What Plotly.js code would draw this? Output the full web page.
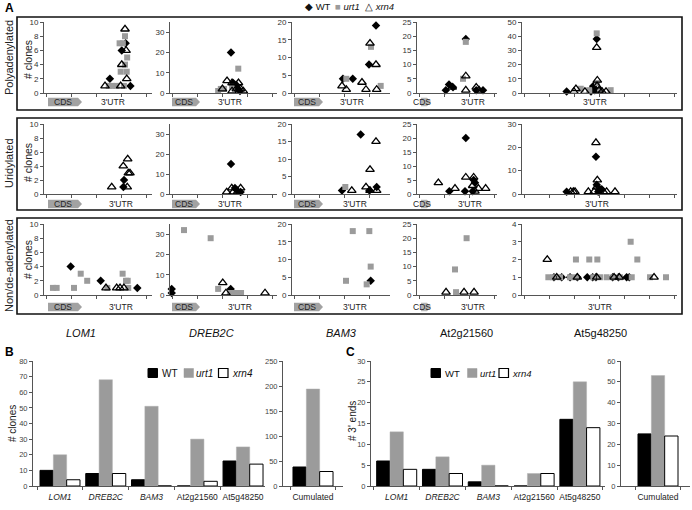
<!DOCTYPE html>
<html><head><meta charset="utf-8">
<script src="https://cdn.plot.ly/plotly-3.0.1.min.js"></script>
<style>body{margin:0;background:#fff}#chart{width:692px;height:510px}</style>
</head><body><div id="chart"></div>
<script>
// ---------- DATA ----------
const genes = ['LOM1','DREB2C','BAM3','At2g21560','At5g48250'];
const geneItalic = [true,true,true,false,false];
const rowNames = ['Polyadenylated','Uridylated','Non/de-adenylated'];
const seriesNames = ['WT','urt1','xrn4'];

// Panel A: position along transcript (axis units 0-100) and # clones; one inner list per gene
const polyWTx = [[75.6,72,61,80],[57,59,62,63.5,65.4],[52,62,78.6,85.7],[36,40,45,61,74,82.5],[48.2,46,45.8,28.8,44.5,47]];
const polyWTy = [[7,6,2,1],[20,5,4,2,1],[4,4,8,19],[1,3,2,19,1,1],[38,5,4,1,1,2]];
const polyUrt1x = [[75,73,70,77,75,71,76.6,60,63,67,74],[45,47.5,50.5,63.8,58],[55.4,80.6,90.5],[61,57.5],[48.2,37.9,43.4,50.3,57.2,48.4]];
const polyUrt1y = [[8,7,7,5,4,3,3,1,1,1,1],[1,2,2,12,3],[4,13,2],[18,5],[42,3,2,2,2,7]];
const polyXrn4x = [[75,76,72,76.6,56.5,71],[53.3,58,64,49,58,62,66,68.5],[51,55.4,71.4,75.5,79.6,85.7,86.4],[61,44,61,74,77.5],[48.2,48.6,33.5,34.8,40.6,49.7,51.6,54.2,48.4]];
const polyXrn4y = [[9,6,4,2,1,1],[6,5,5,2,1,2,2,1],[2,1,3,1,14,8,1],[6,2,1,2,1],[32,9,1,3,1,2,1,1,5]];

const uriWTx = [[73.5,74.1],[57,60.7,62.3,66],[51,70.1,86.4,79],[40.4,61,60,69.6,70.8,72.5],[47.7,48.2,50.3,51.4,28.8,49.2]];
const uriWTy = [[1,2],[15,3,2,1],[1,17,2,1],[1,20,1,1,5,4],[16,4,2,2,1,1]];
const uriUrt1x = [[],[],[54.4],[],[]];
const uriUrt1y = [[],[],[2],[],[]];
const uriXrn4x = [[62.7,77.1,73.4,77.5,78.1,79.6],[53,57.7,59,63,66],[61,75.5,79.6,85.7,79.6,86.4],[26.7,47.5,61,70.8,69.6,76.7,85.8,72.5],[47.7,48.6,48.2,31.4,33.1,34.2,42.8,46.5,52.5,54.6,60]];
const uriXrn4y = [[1,1,4,5,3,3],[1,3,1,1,3],[1,2,7,15,1,1],[4,2,6,6,3,2,2,1],[22,6,3,1,1,1,1,1,1,1,1]];

const nonWTx = [[24.7,52.5,86.4],[1.6,1.6,56.7],[80.3],[],[20.6,25.6,31,35.7,42.1,45.6,47.7,58.5,62.2,67.5,69.2]];
const nonWTy = [[4,2,1],[3,1,3],[4],[],[1,1,1,1,1,1,1,1,1,1,1]];
const nonUrt1x = [[8.3,11.7,27.8,34,40,58.6,72.8,75.9,77.5,78],[13.1,38,45,56,59,62.6,66.4],[55.1,62,78.9,80.3,76.2],[62,47.5,48.8],[34.8,43.4,48.6,74.4,70.1,17,20.2,24.5,31,34.8,46,50.3,54.6,58.9,63.2,70.8,82.6,92.9]];
const nonUrt1y = [[1,1,1,3,2,1,3,2,2,1],[32,28,3,1,1,1,1],[4,18,18,8,3],[20,9,1],[2,2,2,2,3,1,1,1,1,1,1,1,1,1,1,1,1,1]];
const nonXrn4x = [[57.4,67.3,70.4,74],[49.3,52.3,88.8],[],[36.3,58.8,71.3],[16.3,22.4,35.7,48.2,59.4,62.8,85.2]];
const nonXrn4y = [[1,1,1,1],[6,1,1],[],[1,1,1],[2,1,1,1,1,1,1]];

// Panel B: # clones
const clonesWT = [10,8,4,0,16];
const clonesUrt1 = [20,68,51,30,25];
const clonesXrn4 = [4,8,0,3,14];
const cumLabel = ['Cumulated'];
const clonesCumWT = [38], clonesCumUrt1 = [194], clonesCumXrn4 = [29];
// Panel C: # 3' ends
const endsWT = [6,4,1,0,16];
const endsUrt1 = [13,7,5,3,25];
const endsXrn4 = [4,3,0,3,14];
const endsCumWT = [25], endsCumUrt1 = [53], endsCumXrn4 = [24];

// ---------- LAYOUT ----------
const W = 692, H = 510;
const X = p => p / W, Y = p => 1 - p / H;
const FONT = 'Liberation Sans, Arial, Helvetica, sans-serif';
const layout = {
  width: W, height: H, margin: {l:0, r:0, t:0, b:0},
  paper_bgcolor: '#fff', plot_bgcolor: 'rgba(0,0,0,0)', showlegend: false,
  font: {family: FONT, size: 9, color: '#222'},
  barmode: 'group', bargap: 0.126, bargroupgap: 0,
  shapes: [], annotations: []
};
const traces = [];
const ax = n => (n === 1 ? '' : String(n));

function ann(text, px, py, o) {
  layout.annotations.push(Object.assign({
    text: text, x: X(px), y: Y(py), xref: 'paper', yref: 'paper', showarrow: false,
    xanchor: 'center', yanchor: 'middle', font: {family: FONT, size: 9, color: '#222'}
  }, o || {}));
}
function rect(x0, y0, x1, y1, fill, line, lw) {
  layout.shapes.push({type: 'rect', xref: 'paper', yref: 'paper', x0: X(x0), x1: X(x1), y0: Y(y1), y1: Y(y0),
    fillcolor: fill, line: {color: line || 'rgba(0,0,0,0)', width: lw || 0}, layer: 'above'});
}
function arrow(x0, x1, cy, fill) {
  const h = 4.2, tip = 4;
  const p = `M ${X(x0)},${Y(cy - h)} L ${X(x1 - tip)},${Y(cy - h)} L ${X(x1)},${Y(cy)} L ${X(x1 - tip)},${Y(cy + h)} L ${X(x0)},${Y(cy + h)} Z`;
  layout.shapes.push({type: 'path', xref: 'paper', yref: 'paper', path: p, fillcolor: fill, line: {width: 0}, layer: 'below'});
}

// Panel A grid
const xPx = [[44,152],[170,277],[292,390],[417,497],[522,677]];
const rowPx = [[22,93],[124,194],[224,295]];
const yMax = [[10,35,20,25,50],[10,35,20,25,30],[10,35,20,25,4]];
const yStep = [[2,10,5,5,10],[2,10,5,5,10],[2,10,5,5,1]];
const rowData = [
  [[polyWTx,polyWTy],[polyUrt1x,polyUrt1y],[polyXrn4x,polyXrn4y]],
  [[uriWTx,uriWTy],[uriUrt1x,uriUrt1y],[uriXrn4x,uriXrn4y]],
  [[nonWTx,nonWTy],[nonUrt1x,nonUrt1y],[nonXrn4x,nonXrn4y]]
];
const markerStyles = [
  {symbol: 'diamond', size: 6.5, color: '#000'},
  {symbol: 'square', size: 6, color: '#9b9b9b'},
  {symbol: 'triangle-up-open', size: 7.5, color: '#000', line: {width: 1.3, color: '#000'}}
];

for (let r = 0; r < 3; r++) {
  for (let g = 0; g < 5; g++) {
    const n = r * 5 + g + 1;
    const w = xPx[g][1] - xPx[g][0];
    layout['xaxis' + ax(n)] = {
      domain: [X(xPx[g][0]), X(xPx[g][1])], range: [0, 100], anchor: 'y' + ax(n),
      showline: true, linecolor: '#555', linewidth: 1, ticks: 'outside', ticklen: 3, tickcolor: '#555',
      tick0: 250 / w, dtick: 2500 / w, showticklabels: false, showgrid: false, zeroline: false, fixedrange: true
    };
    layout['yaxis' + ax(n)] = {
      domain: [Y(rowPx[r][1]), Y(rowPx[r][0])], range: [0, yMax[r][g]], anchor: 'x' + ax(n),
      showline: true, linecolor: '#555', linewidth: 1, ticks: 'outside', ticklen: 3, tickcolor: '#555',
      dtick: yStep[r][g], tickfont: {family: FONT, size: 8, color: '#333'}, showgrid: false, zeroline: false, fixedrange: true
    };
    for (let s = 0; s < 3; s++) {
      traces.push({
        type: 'scatter', mode: 'markers', name: seriesNames[s],
        x: rowData[r][s][0][g], y: rowData[r][s][1][g],
        xaxis: 'x' + ax(n), yaxis: 'y' + ax(n), marker: markerStyles[s], cliponaxis: false, hoverinfo: 'x+y'
      });
    }
  }
}

// Panel A decorations
const boxes = [[17,17,682,110],[17,118,682,210],[17,218,682,314]];
boxes.forEach(b => rect(b[0], b[1], b[2], b[3], 'rgba(0,0,0,0)', '#111', 1.6));
const labelY = [102, 204, 307];
const utrX = [[113,230,352,473,595],[121,230,355,470,597],[121,240,355,473,600]];
const rowLabelY = [58, 163, 266];
const clonesTitleY = [60, 163, 260];
for (let r = 0; r < 3; r++) {
  const cy = labelY[r];
  arrow(48, 82, cy, '#a2a2a2');
  arrow(172, 200, cy, '#a2a2a2');
  arrow(294, 323, cy, '#a2a2a2');
  arrow(421, 431, cy, '#b5b5b5');
  ann('CDS', 63, cy, {font: {family: FONT, size: 8.5, color: '#222'}});
  ann('CDS', 184, cy, {font: {family: FONT, size: 8.5, color: '#222'}});
  ann('CDS', 307, cy, {font: {family: FONT, size: 8.5, color: '#222'}});
  ann('CDS', 422, cy, {font: {family: FONT, size: 8.5, color: '#222'}});
  for (let g = 0; g < 5; g++) ann("3'UTR", utrX[r][g], cy, {font: {family: FONT, size: 8.5, color: '#222'}});
  ann(rowNames[r], 9, rowLabelY[r], {textangle: -90, font: {family: FONT, size: 11, color: '#222'}});
  ann('# clones', 28, clonesTitleY[r], {textangle: -90, font: {family: FONT, size: 10.5, color: '#222'}});
}
const geneLabelX = [81, 211, 341, 466, 600];
genes.forEach((gname, i) => ann(geneItalic[i] ? '<i>' + gname + '</i>' : gname, geneLabelX[i], 333, {font: {family: FONT, size: 11, color: '#111'}}));

ann('<b>A</b>', 9, 8, {font: {family: FONT, size: 12, color: '#000'}});
ann('<b>B</b>', 9, 352, {font: {family: FONT, size: 12, color: '#000'}});
ann('<b>C</b>', 350, 352, {font: {family: FONT, size: 12, color: '#000'}});

// top legend for panel A
ann('◆ WT', 303, 7, {xanchor: 'left', font: {family: FONT, size: 9.5, color: '#111'}});
ann('<span style="color:#9b9b9b">■</span> <i>urt1</i>', 333, 7, {xanchor: 'left', font: {family: FONT, size: 9.5, color: '#111'}});
ann('△ <i>xrn4</i>', 363, 7, {xanchor: 'left', font: {family: FONT, size: 9.5, color: '#111'}});

// ---------- Panels B and C (bars) ----------
const barColors = [
  {color: '#000', line: {color: '#000', width: 1}},
  {color: '#9b9b9b', line: {color: '#b0b0b0', width: 0.5}},
  {color: '#fff', line: {color: '#000', width: 1}}
];
const geneTicks = genes.map((gname, i) => geneItalic[i] ? '<i>' + gname + '</i>' : gname);
function barAxes(n, xr, yr, xrange, ymax, ystep, cats, ticktext) {
  layout['xaxis' + n] = {
    domain: [X(xr[0]), X(xr[1])], anchor: 'y' + n, type: 'category', range: xrange,
    categoryorder: 'array', categoryarray: cats, tickmode: 'array', tickvals: cats, ticktext: ticktext,
    tickson: 'boundaries', tickangle: 0, ticklabelstandoff: 3, showline: true, linecolor: '#555', linewidth: 1,
    ticks: 'outside', ticklen: 3, tickcolor: '#555', tickfont: {family: FONT, size: 8.5, color: '#222'},
    showgrid: false, zeroline: false, fixedrange: true
  };
  layout['yaxis' + n] = {
    domain: [Y(yr[1]), Y(yr[0])], anchor: 'x' + n, range: [0, ymax], dtick: ystep,
    showline: true, linecolor: '#555', linewidth: 1, ticks: 'outside', ticklen: 3, tickcolor: '#555',
    tickfont: {family: FONT, size: 7.5, color: '#444'}, showgrid: false, zeroline: false, fixedrange: true
  };
}
function addBars(n, cats, sets) {
  sets.forEach((vals, s) => traces.push({
    type: 'bar', name: seriesNames[s], x: cats, y: vals, xaxis: 'x' + n, yaxis: 'y' + n,
    marker: barColors[s], hoverinfo: 'x+y'
  }));
}
barAxes(16, [33,265], [361,486], [-0.59, 4.48], 80, 10, genes, geneTicks);
addBars(16, genes, [clonesWT, clonesUrt1, clonesXrn4]);
barAxes(17, [283,343], [361,486], [-0.655, 0.655], 250, 50, cumLabel, cumLabel);
addBars(17, cumLabel, [clonesCumWT, clonesCumUrt1, clonesCumXrn4]);
barAxes(18, [371,605], [361,486], [-0.561, 4.548], 30, 5, genes, geneTicks);
addBars(18, genes, [endsWT, endsUrt1, endsXrn4]);
barAxes(19, [621,690], [361,486], [-0.808, 0.699], 60, 10, cumLabel, cumLabel);
addBars(19, cumLabel, [endsCumWT, endsCumUrt1, endsCumXrn4]);

ann('# clones', 12, 423, {textangle: -90, font: {family: FONT, size: 10, color: '#222'}});
ann("# 3' ends", 352, 421, {textangle: -90, font: {family: FONT, size: 10, color: '#222'}});

// bar legends
function barLegend(y0, xs, fs) {
  const f = {family: FONT, size: fs, color: '#111'};
  rect(xs[0], y0, xs[0] + 9.5, y0 + 9, '#000', '#000', 1);
  ann('WT', xs[0] + 11.5, y0 + 4.5, {xanchor: 'left', font: f});
  rect(xs[1], y0, xs[1] + 9.5, y0 + 9, '#9b9b9b', '#9b9b9b', 0.5);
  ann('<i>urt1</i>', xs[1] + 10.5, y0 + 4.5, {xanchor: 'left', font: f});
  rect(xs[2], y0, xs[2] + 9.5, y0 + 9, '#fff', '#000', 1.2);
  ann('<i>xrn4</i>', xs[2] + 11, y0 + 4.5, {xanchor: 'left', font: f});
}
barLegend(368.5, [148, 184, 218.5], 10);
barLegend(368.5, [431, 467.5, 499], 9.5);

Plotly.newPlot('chart', traces, layout, {staticPlot: true, displayModeBar: false});
</script>
</body></html>
